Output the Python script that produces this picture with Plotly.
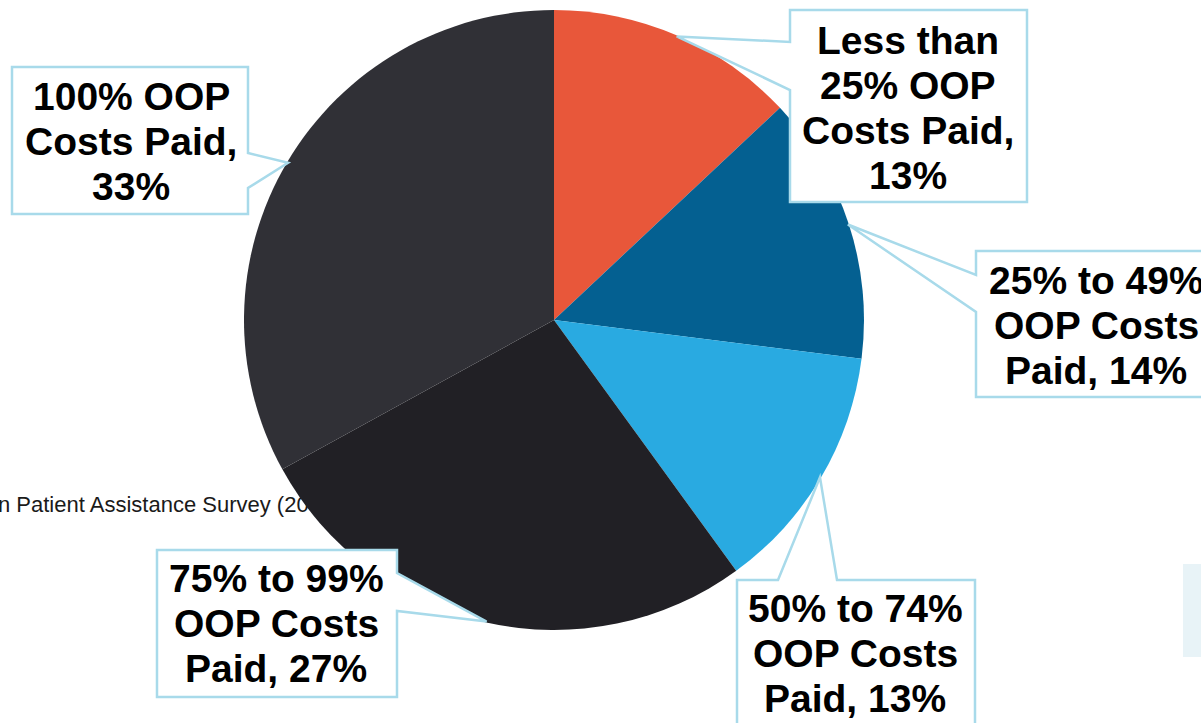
import plotly.graph_objects as go
import math

# ---------------- data ----------------
categories = [
    "Less than 25% OOP Costs Paid",
    "25% to 49% OOP Costs Paid",
    "50% to 74% OOP Costs Paid",
    "75% to 99% OOP Costs Paid",
    "100% OOP Costs Paid",
]
values = [13, 14, 13, 27, 33]
label_lines = [
    ["Less than", "25% OOP", "Costs Paid,", "13%"],
    ["25% to 49%", "OOP Costs", "Paid, 14%"],
    ["50% to 74%", "OOP Costs", "Paid, 13%"],
    ["75% to 99%", "OOP Costs", "Paid, 27%"],
    ["100% OOP", "Costs Paid,", "33%"],
]
source_text = "n Patient Assistance Survey (20"

# ---------------- styles / layout ----------------
W, H = 1201, 723
colors = ["#E8573A", "#046091", "#29AAE1", "#212025", "#303036"]
border = "#A8DAEA"
CX, CY, R = 554, 320, 310

# callout boxes: (left, top, right, bottom), side, pointer base, text x center, first line y, spacing
callouts = [
    dict(box=(790, 10, 1027, 202), side="left", base=(42, 90), tx=908, ty=40, dy=45),
    dict(box=(976, 251, 1240, 397), side="left", base=(275, 312), tx=1096, ty=281, dy=45),
    dict(box=(737, 580, 975, 760), side="top", base=(778, 837), tx=855, ty=608, dy=45),
    dict(box=(157, 550, 397, 697), side="right", base=(573, 611), tx=276, ty=578, dy=45),
    dict(box=(12, 67, 248, 214), side="right", base=(153, 188), tx=131, ty=97, dy=45),
]


def px(x):
    return x / W


def py(y):
    return 1 - y / H


fig = go.Figure()

# source note (cartesian layer, drawn beneath the pie)
fig.add_trace(go.Scatter(
    x=[-2], y=[506], mode="text", text=[source_text], textposition="middle right",
    textfont=dict(family="Liberation Sans, Arial", size=22, color="#1a1a1a"),
    hoverinfo="skip", showlegend=False,
))

fig.add_trace(go.Pie(
    labels=categories, values=values, sort=False, direction="clockwise", rotation=0,
    marker=dict(colors=colors, line=dict(width=0)),
    textinfo="none", hoverinfo="label+percent", showlegend=False,
    domain=dict(x=[px(CX - R), px(CX + R)], y=[py(CY + R), py(CY - R)]),
))

shapes = []
annotations = []
total = sum(values)
cum = 0
for v, lines, c in zip(values, label_lines, callouts):
    mid = (cum + v / 2) / total * 2 * math.pi
    cum += v
    tipx = CX + (R - 1) * math.sin(mid)
    tipy = CY - (R - 1) * math.cos(mid)
    l, t, r, b = c["box"]
    a1, a2 = c["base"]
    if c["side"] == "left":
        pts = [(l, t), (r, t), (r, b), (l, b), (l, a2), (tipx, tipy), (l, a1)]
    elif c["side"] == "right":
        pts = [(l, t), (r, t), (r, a1), (tipx, tipy), (r, a2), (r, b), (l, b)]
    else:  # top
        pts = [(l, t), (a1, t), (tipx, tipy), (a2, t), (r, t), (r, b), (l, b)]
    path = "M " + " L ".join(f"{px(x):.5f},{py(y):.5f}" for x, y in pts) + " Z"
    shapes.append(dict(type="path", xref="paper", yref="paper", path=path,
                       fillcolor="white", line=dict(color=border, width=2.5), layer="above"))
    for i, line in enumerate(lines):
        annotations.append(dict(
            x=px(c["tx"]), y=py(c["ty"] + i * c["dy"]), xref="paper", yref="paper",
            text=line, showarrow=False, xanchor="center", yanchor="middle",
            font=dict(family="Liberation Sans, Arial", size=39, color="#000000", weight="bold"),
        ))

# light panel at the right edge
shapes.append(dict(type="rect", xref="paper", yref="paper",
                   x0=px(1183), x1=px(1215), y0=py(657), y1=py(564),
                   fillcolor="#E8F3F7", line=dict(width=0), layer="below"))

fig.update_layout(
    width=W, height=H,
    margin=dict(l=0, r=0, t=0, b=0),
    paper_bgcolor="white", plot_bgcolor="white",
    xaxis=dict(range=[0, W], visible=False, domain=[0, 1], fixedrange=True),
    yaxis=dict(range=[H, 0], visible=False, domain=[0, 1], fixedrange=True),
    shapes=shapes, annotations=annotations,
)

fig.write_html("out.html")
